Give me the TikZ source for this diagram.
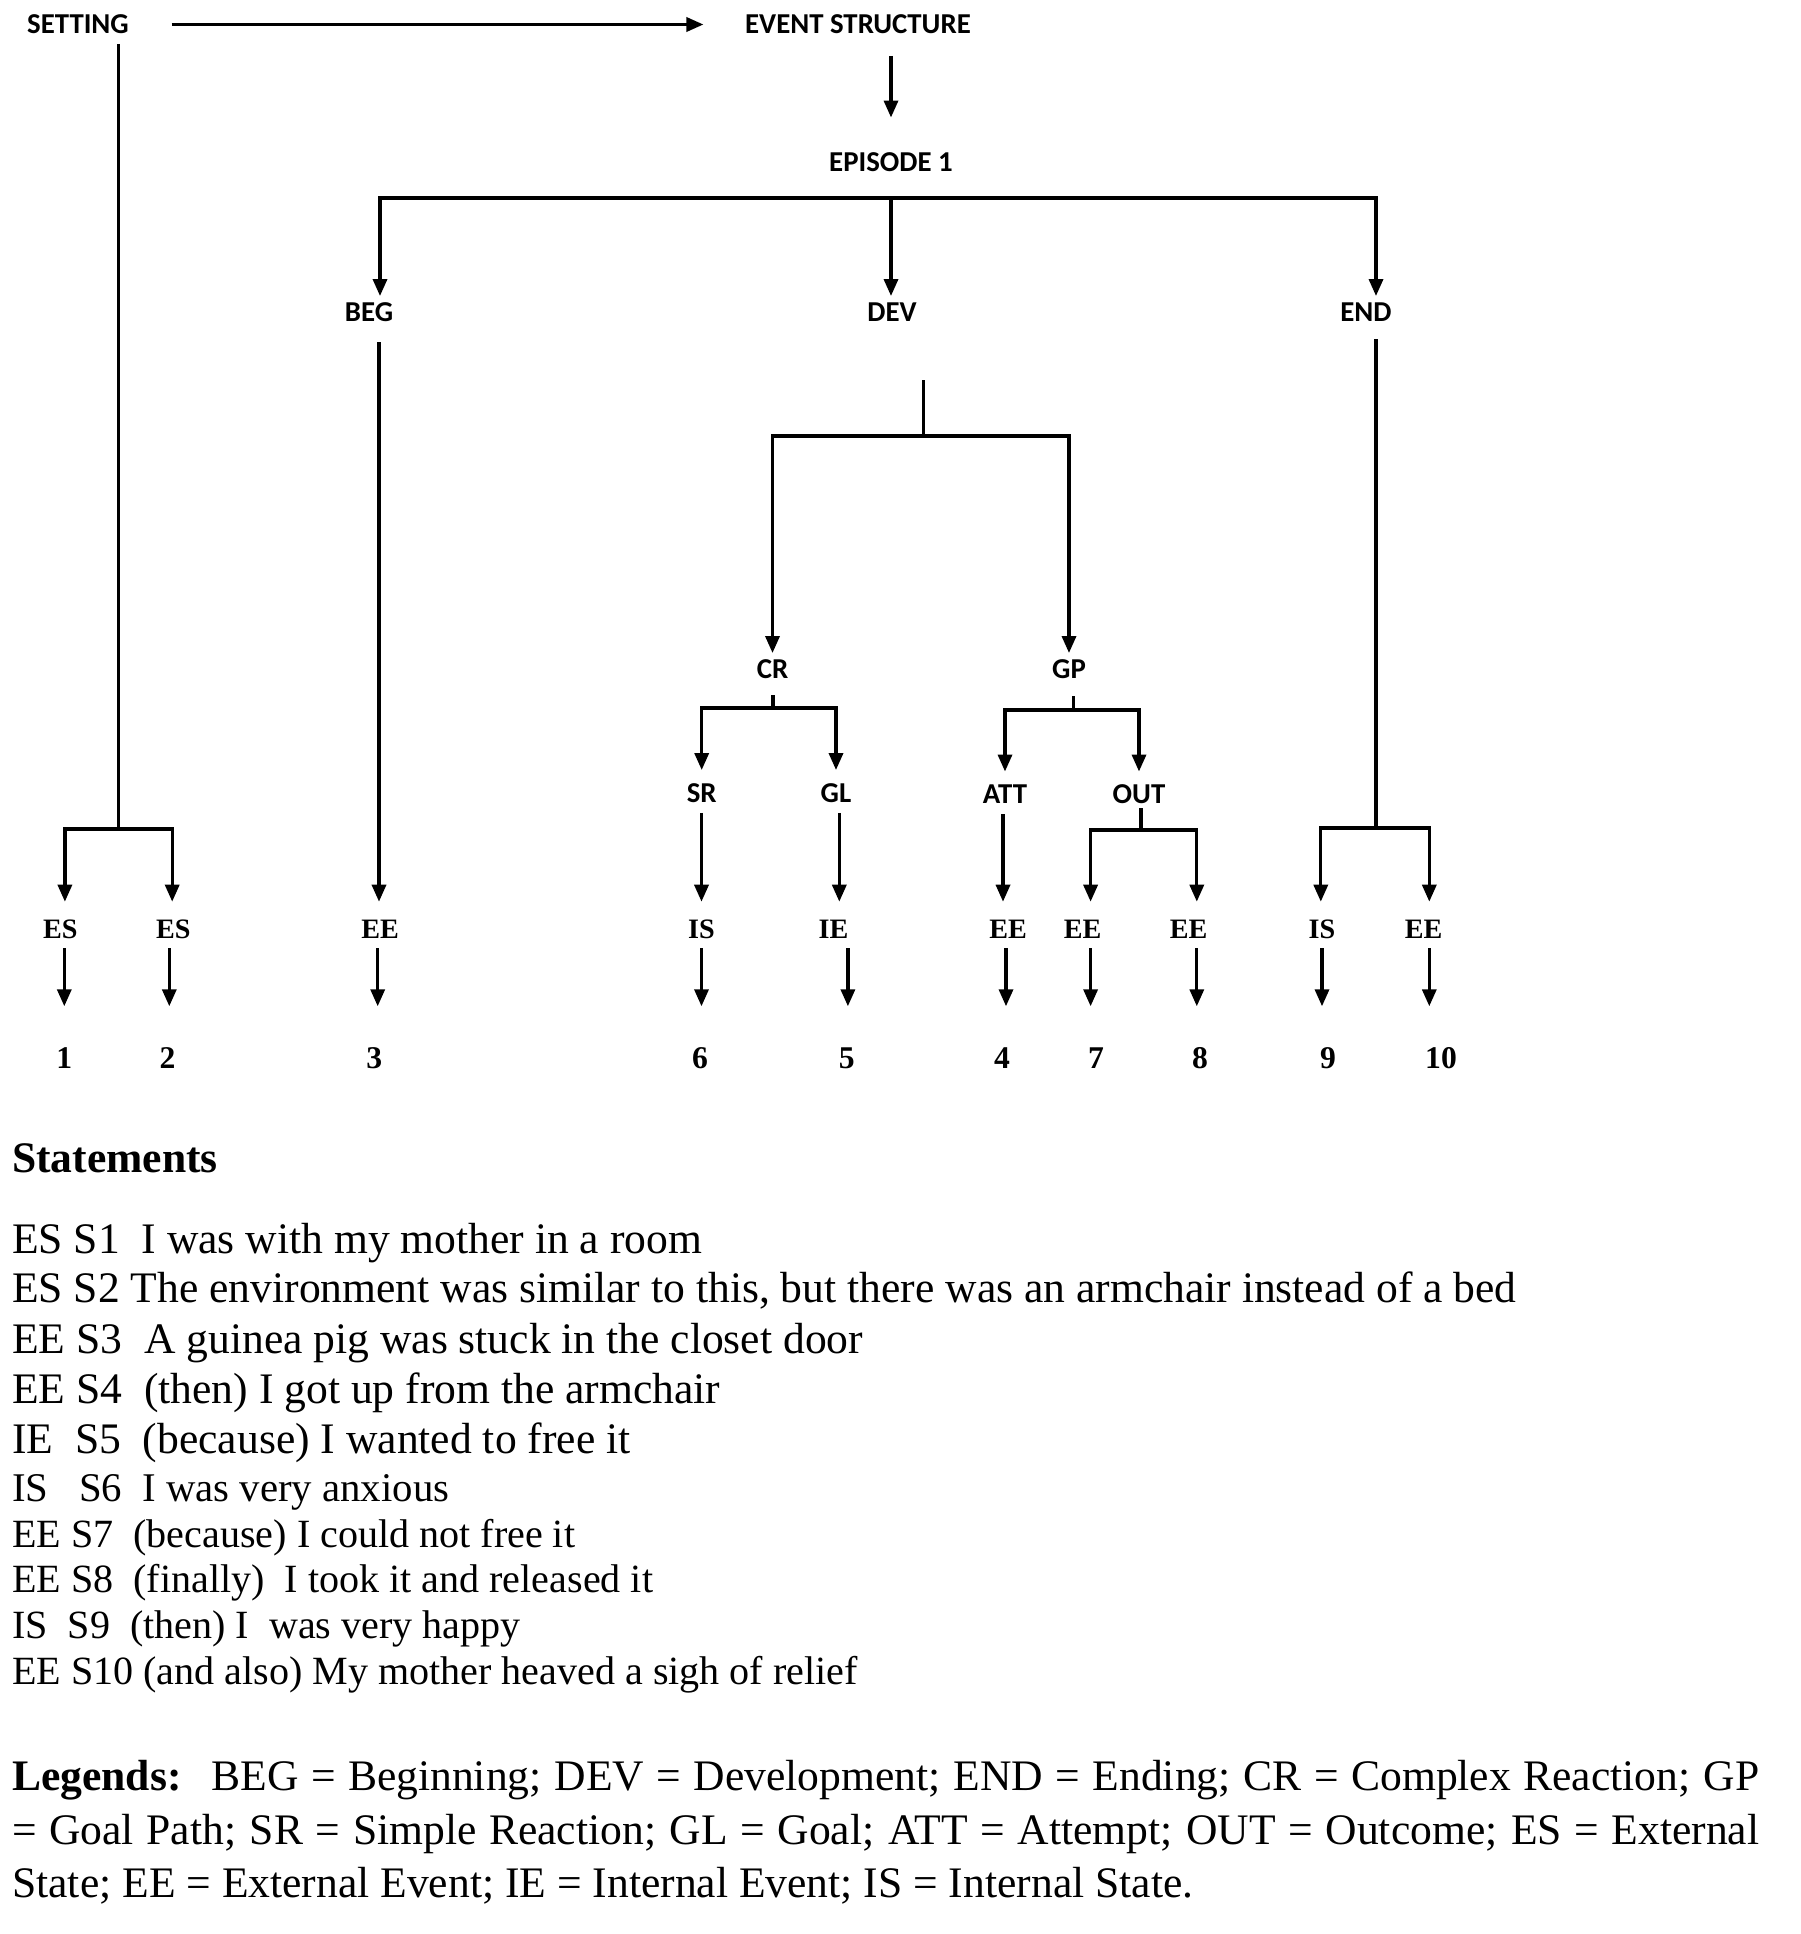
\documentclass[tikz,border=0pt]{standalone}
\usepackage{fontspec}
\setmainfont{Liberation Serif}
\newfontfamily\tagfamily{Carlito}
\usetikzlibrary{arrows.meta}
\definecolor{ink}{HTML}{000000}
\tikzset{tag/.style={font=\tagfamily\bfseries\fontsize{8.2}{10}\selectfont,inner sep=0pt,text height=1.75mm,text depth=0pt},
  leaf/.style={font=\bfseries\fontsize{8}{10}\selectfont,inner sep=0pt,text height=1.8mm,text depth=0pt},
  num/.style={font=\bfseries\fontsize{9}{11}\selectfont,inner sep=0pt,text height=2.1mm,text depth=0pt},
  wire/.style={line width=.95pt,draw=ink},
  arr/.style={wire,-{Triangle[length=1.7mm,width=1.4mm]}},
  into/.style={arr,shorten >=.75mm},
  sub/.style={arr,shorten >=1.4mm},
  stmt/.style={anchor=base west,inner sep=0pt,font=\fontsize{12.4}{14}\selectfont}}

\begin{document}
\begin{tikzpicture}
\useasboundingbox (0,0) rectangle (18,-19.34);
% labels of the tree
\node[tag] (setting) at (.78,-.245) {SETTING};
\node[tag] (ev) at (8.58,-.245) {EVENT STRUCTURE};
\node[tag] (ep) at (8.91,-1.63) {EPISODE 1};
\node[tag] (beg) at (3.69,-3.13) {BEG};
\node[tag] (dev) at (8.92,-3.13) {DEV};
\node[tag] (fin) at (13.66,-3.13) {END};
\node[tag] (cr) at (7.725,-6.70) {CR};
\node[tag] (gp) at (10.69,-6.70) {GP};
\node[tag] (sr) at (7.017,-7.935) {SR};
\node[tag] (gl) at (8.36,-7.935) {GL};
\node[tag] (att) at (10.05,-7.95) {ATT};
\node[tag] (out) at (11.39,-7.95) {OUT};
% leaves and statement numbers
\foreach \k/\tx/\lx/\lab/\ax/\nx in {1/.649/.603/ES/.643/.643,2/1.722/1.734/ES/1.693/1.676,
  3/3.79/3.80/EE/3.777/3.743,4/10.03/10.08/EE/10.06/10.02,5/8.393/8.335/IE/8.479/8.467,
  6/7.015/7.015/IS/7.015/7.0,7/10.906/10.825/EE/10.906/10.96,8/11.968/11.887/EE/11.968/12.0,
  9/13.208/13.22/IS/13.22/13.28,10/14.293/14.235/EE/14.293/14.41}{
 \coordinate (t\k) at (\tx,-9.017);
 \node[leaf] (l\k) at (\lx,-9.29) {\lab};
 \coordinate (a\k) at (\ax,-9.48);
 \node[num] (n\k) at (\nx,-10.575) {\k};
 \draw[arr,shorten >=4mm] (a\k) -- (a\k |- n\k.north);
}
% top
\draw[arr,shorten <=4.2mm,shorten >=4.1mm] (setting.east) -- (ev.west);
\draw[arr,shorten <=2.2mm,shorten >=3.6mm] (ep |- ev.south) -- (ep.north);
\coordinate (eb) at (8.91,-1.98);
\coordinate (ebl) at (3.80,-1.98);
\coordinate (ebr) at (13.76,-1.98);
\draw[into] (eb) -| (beg.north -| ebl);
\draw[into] (eb) -| (fin.north -| ebr);
\draw[into] (eb) -- (eb |- dev.north);
% setting
\coordinate (sf) at (1.183,-8.29);
\draw[wire,shorten <=1mm] (setting.south -| sf) -- (sf);
\draw[arr] (sf) -| (t1);
\draw[arr] (sf) -| (t2);
% beginning
\draw[arr,shorten <=2mm] (beg.south -| t3) -- (t3);
% development
\coordinate (dtop) at (9.236,-3.80);
\coordinate (dfork) at (9.236,-4.36);
\draw[wire] (dtop) -- (dfork);
\draw[into] (dfork) -| (cr);
\draw[into] (dfork) -| (gp);
\coordinate (crf) at (7.73,-7.08);
\draw[wire,shorten <=1.6mm] (cr.south -| crf) -- (crf);
\draw[sub] (crf) -| (sr);
\draw[sub] (crf) -| (gl);
\coordinate (gpf) at (10.736,-7.10);
\draw[wire,shorten <=1.7mm] (gp.south -| gpf) -- (gpf);
\draw[sub] (gpf) -| (att);
\draw[sub] (gpf) -| (out);
\draw[arr,shorten <=1mm] (sr.south -| t6) -- (t6);
\draw[arr,shorten <=1mm] (gl.south -| t5) -- (t5);
\draw[arr,shorten <=1mm] (att.south -| t4) -- (t4);
\coordinate (of) at (11.41,-8.30);
\draw[wire,shorten <=.4mm] (out.south -| of) -- (of);
\draw[arr] (of) -| (t7);
\draw[arr] (of) -| (t8);
% ending
\coordinate (efork) at (13.76,-8.28);
\draw[wire,shorten <=1.7mm] (fin.south -| efork) -- (efork);
\draw[arr] (efork) -| (t9);
\draw[arr] (efork) -| (t10);
% statements
\node[stmt,font=\bfseries\fontsize{12.4}{14}\selectfont] (stmts) at (.115,-11.72) {Statements};
\foreach \k/\y/\f/\s in {1/12.53/12.4/{ES S1~ I was with my mother in a room},
  2/13.02/12.4/{ES S2 The environment was similar to this, but there was an armchair instead of a bed},
  3/13.53/12.4/{EE S3~ A guinea pig was stuck in the closet door},
  4/14.03/12.4/{EE S4~ (then) I got up from the armchair},
  5/14.53/12.4/{IE~ S5~ (because) I wanted to free it},
  6/15.01/11.6/{IS~~ S6~ I was very anxious},
  7/15.47/11.4/{EE S7~ (because) I could not free it},
  8/15.92/11.4/{EE S8~ (finally)~ I took it and released it},
  9/16.38/11.4/{IS~ S9~ (then) I~ was very happy},
  10/16.84/11.4/{EE S10 (and also) My mother heaved a sigh of relief}}{
 \node[stmt,font=\fontsize{\f}{14}\selectfont] (s\k) at (.115,-\y) {\s};
}
% legends
\node[stmt] (leg1) at (.115,-17.90) {\makebox[17.47cm][s]{\textbf{Legends:}~ BEG = Beginning; DEV = Development; END = Ending; CR = Complex Reaction; GP}};
\node[stmt] (leg2) at (.115,-18.44) {\makebox[17.47cm][s]{= Goal Path; SR = Simple Reaction; GL = Goal; ATT = Attempt; OUT = Outcome; ES = External}};
\node[stmt] (leg3) at (.115,-18.97) {State; EE = External Event; IE = Internal Event; IS = Internal State.};
\end{tikzpicture}
\end{document}
